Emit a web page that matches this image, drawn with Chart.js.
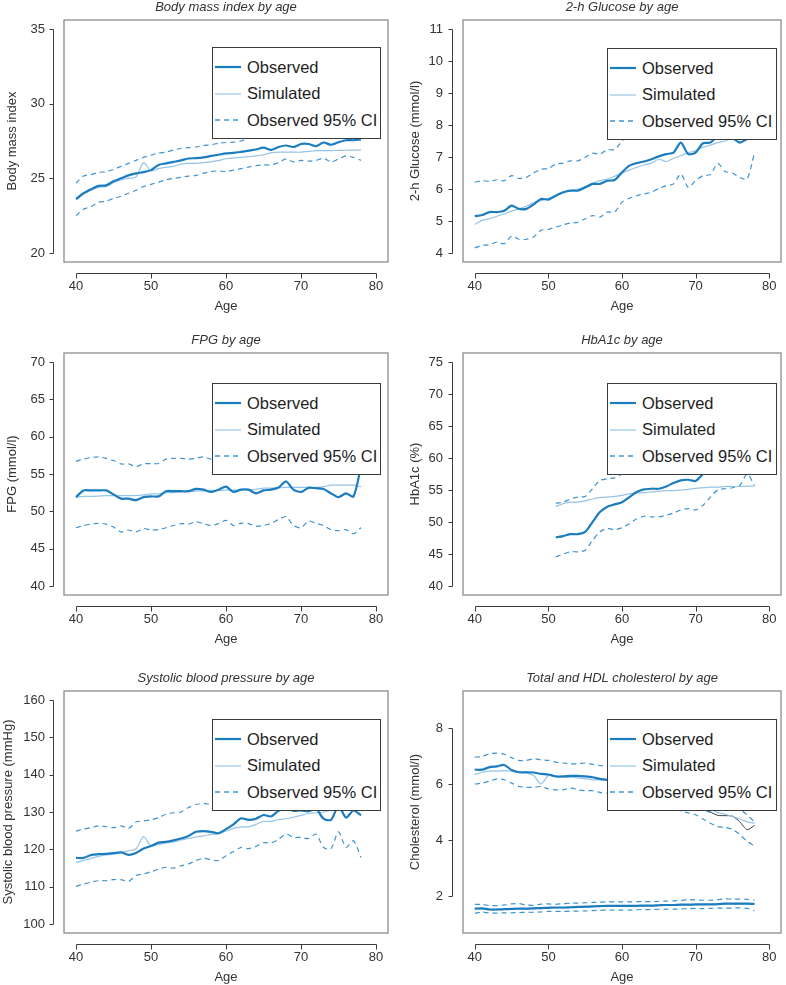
<!DOCTYPE html>
<html>
<head>
<meta charset="utf-8">
<script src="https://cdn.jsdelivr.net/npm/chart.js@4.4.1/dist/chart.umd.min.js"></script>
<style>
  html, body { margin: 0; padding: 0; background: #fff; overflow: hidden; }
  #page { position: relative; width: 786px; height: 985px; }
  .panel { position: absolute; width: 393px; height: 314px; }
  .panel canvas { position: absolute; left: 0; top: 0; }
  .legend { position: absolute; box-sizing: border-box; background: #fff; border: 1px solid #3a3a3a;
            font-family: "Liberation Sans", Arial, sans-serif; font-size: 16.5px; color: #1e1e1e; }
  .legend .row { position: absolute; left: 0; height: 20px; display: flex; align-items: center; white-space: nowrap; }
  .legend svg { margin-left: 2px; margin-right: 6px; }
</style>
</head>
<body>
<div id="page"></div>
<script>
// ages on the x axis
const ages = [40,41,42,43,44,45,46,47,48,49,50,51,52,53,54,55,56,57,58,59,60,61,62,63,64,65,66,67,68,69,70,71,72,73,74,75,76,77,78];
const agesHba = [51,52,53,54,55,56,57,58,59,60,61,62,63,64,65,66,67,68,69,70,71,72,73,74,75,76,77,78];
const xTicks = [40, 50, 60, 70, 80];

// Body mass index
const bmiObs = [23.6,24.0,24.27,24.5,24.53,24.8,25.0,25.2,25.33,25.42, 25.55,25.9,26.0,26.1,26.2,26.33,26.35,26.4,26.5,26.58, 26.67,26.7,26.77,26.85,26.93,27.05,26.9,27.1,27.2,27.1, 27.3,27.3,27.15,27.4,27.25,27.42,27.55,27.55,27.6];
const bmiSim = [23.7,23.95,24.2,24.4,24.45,24.7,24.9,25.0,25.1,26.05, 25.5,25.65,25.75,25.8,25.95,26.0,26.0,26.05,26.1,26.2, 26.31,26.37,26.4,26.45,26.5,26.58,26.71,26.75,26.75,26.75, 26.75,26.8,26.85,26.85,26.86,26.87,26.88,26.89,26.9];
const bmiHi  = [24.67,25.15,25.25,25.4,25.45,25.6,25.8,26.0,26.2,26.4, 26.55,26.7,26.75,26.9,27.0,27.05,27.1,27.2,27.25,27.35, 27.4,27.42,27.5,27.7,27.8,28.0,27.9,28.1,28.25,28.1, 28.35,28.35,28.2,28.45,28.3,28.5,28.65,28.7,28.8];
const bmiLo  = [22.49,22.93,23.1,23.4,23.47,23.65,23.8,24.0,24.2,24.45, 24.6,24.75,24.9,25.0,25.07,25.15,25.2,25.35,25.45,25.5, 25.45,25.55,25.65,25.75,25.85,25.9,25.9,26.05,26.3,26.1, 26.2,26.15,26.2,26.35,26.1,26.3,26.5,26.4,26.2];
const bmiTicks = [20, 25, 30, 35];

// 2-h glucose
const gluObs = [5.15,5.19,5.28,5.28,5.32,5.48,5.38,5.38,5.52,5.69, 5.67,5.79,5.9,5.95,5.95,6.05,6.16,6.16,6.26,6.28, 6.52,6.73,6.81,6.86,6.93,7.02,7.09,7.14,7.45,7.09, 7.14,7.43,7.45,7.66,7.71,7.6,7.45,7.56,7.65];
const gluSim = [4.89,5.02,5.07,5.15,5.22,5.31,5.38,5.46,5.57,5.64, 5.71,5.79,5.88,5.95,6.0,6.08,6.18,6.26,6.31,6.4, 6.5,6.59,6.68,6.75,6.81,6.93,6.86,6.96,7.04,7.14, 7.19,7.3,7.37,7.45,7.5,7.6,7.7,7.82,7.92];
const gluHi  = [6.21,6.26,6.24,6.29,6.26,6.42,6.33,6.36,6.5,6.62, 6.64,6.78,6.81,6.88,6.88,6.99,7.12,7.09,7.23,7.23, 7.5,7.7,7.8,7.85,7.95,8.0,8.1,8.15,8.45,8.15, 8.2,8.45,8.5,8.7,8.8,8.7,8.6,8.8,9.1];
const gluLo  = [4.16,4.24,4.26,4.34,4.29,4.53,4.43,4.43,4.5,4.71, 4.74,4.81,4.88,4.94,4.96,5.07,5.17,5.12,5.28,5.28, 5.59,5.71,5.79,5.85,5.9,6.02,6.1,6.16,6.47,6.05, 6.26,6.42,6.45,6.8,6.55,6.5,6.36,6.31,7.14];
const gluTicks = [4, 5, 6, 7, 8, 9, 10, 11];

// FPG
const fpgObs = [51.9,52.8,52.8,52.8,52.8,52.27,51.7,51.7,51.5,51.9, 52.0,52.0,52.7,52.7,52.7,52.7,53.0,52.9,52.6,52.9, 53.3,52.6,52.9,52.9,52.4,52.8,52.9,53.2,54.0,52.9, 52.6,53.15,53.1,53.0,52.4,51.9,52.4,52.0,56.0];
const fpgSim = [51.9,52.0,52.0,52.05,52.1,52.1,52.1,52.1,52.1,52.2, 52.35,52.35,52.5,52.5,52.6,52.65,52.7,52.75,52.8,52.8, 52.84,52.84,52.9,52.9,52.95,53.1,53.1,53.15,53.2,53.2, 53.2,53.2,53.2,53.3,53.5,53.5,53.5,53.5,53.3];
const fpgHi  = [56.7,57.0,57.2,57.3,57.1,56.8,56.35,56.35,56.0,56.35, 56.4,56.4,57.0,57.1,57.1,57.0,57.1,57.3,57.0,57.2, 57.4,57.2,57.3,57.4,57.2,57.5,57.6,57.9,58.6,57.6, 57.4,57.7,57.7,57.6,57.2,56.9,57.2,57.0,61.0];
const fpgLo  = [47.8,48.1,48.3,48.4,48.3,47.9,47.25,47.5,47.25,47.7, 47.5,47.55,47.8,48.1,48.35,48.3,48.6,48.35,48.1,48.35, 48.8,48.1,48.4,48.35,48.0,48.1,48.4,48.9,49.3,48.1, 47.8,48.7,48.4,48.1,47.55,47.4,47.55,47.0,47.8];
const fpgTicks = [40, 45, 50, 55, 60, 65, 70];

// HbA1c (ages 51-78)
const hbaObs = [47.6,47.8,48.1,48.1,48.45,50.0,51.55,52.4,52.75, 53.1,53.9,54.7,55.1,55.2,55.2,55.55,56.1,56.5,56.6, 56.4,57.5,58.8,59.3,59.6,60.0,60.3,60.7,61.0];
const hbaSim = [52.45,52.85,53.1,53.1,53.3,53.6,53.8,53.9,54.0, 54.15,54.4,54.5,54.6,54.7,54.8,54.9,54.9,55.0,55.1, 55.25,55.35,55.45,55.45,55.55,55.55,55.55,55.6,55.6];
const hbaHi  = [52.95,53.1,53.6,53.9,54.0,55.2,56.5,56.75,56.9, 57.5,57.9,58.5,59.0,59.2,59.3,59.6,60.2,60.5,60.6, 60.4,61.5,62.0,62.5,62.5,62.4,62.2,62.5,62.8];
const hbaLo  = [44.55,45.0,45.35,45.35,45.6,47.15,48.45,49.0,48.8, 49.1,49.75,50.5,50.9,50.8,50.8,51.05,51.4,51.9,52.1, 51.9,52.6,53.9,55.0,55.2,55.35,55.7,57.5,55.7];
const hbaTicks = [40, 45, 50, 55, 60, 65, 70, 75];

// Systolic blood pressure
const sbpObs = [117.7,117.7,118.5,118.7,118.8,119.0,119.2,118.5,119.0,120.2, 120.9,121.8,122.0,122.4,122.9,123.6,124.7,124.9,124.7,124.3, 125.4,126.7,128.3,127.9,128.2,129.2,128.8,130.3,130.9,130.3, 130.4,130.2,130.9,128.2,127.9,131.6,128.5,130.4,129.1];
const sbpSim = [116.5,117.0,117.6,118.1,118.5,118.7,119.2,119.6,120.1,123.4, 120.9,121.3,121.7,122.0,122.5,122.9,123.3,123.6,124.0,124.2, 124.9,125.6,126.0,126.0,126.7,127.5,127.5,128.0,128.2,128.6, 129.1,129.6,129.8,130.0,130.5,130.8,131.0,131.2,131.4];
const sbpHi  = [124.9,125.4,125.8,126.3,126.1,125.8,126.3,125.6,127.3,127.6, 127.9,128.5,129.4,129.8,130.0,131.2,132.0,132.3,132.0,132.2, 133.0,134.5,136.0,136.0,136.5,137.5,137.0,138.5,139.0,138.0, 138.0,138.0,139.0,137.0,136.0,139.0,136.0,139.0,140.0];
const sbpLo  = [110.1,110.7,111.2,111.6,111.6,111.9,111.9,111.4,113.0,113.4, 114.0,114.7,115.2,115.0,115.6,116.1,117.0,117.6,117.2,117.0, 118.3,119.4,120.5,120.2,120.8,121.8,121.7,122.7,124.1,123.2, 123.2,122.9,124.1,120.5,120.2,124.7,120.5,122.3,117.8];
const sbpTicks = [100, 110, 120, 130, 140, 150, 160];

// Total and HDL cholesterol
const tcObs  = [6.51,6.51,6.6,6.63,6.68,6.5,6.42,6.42,6.41,6.36, 6.34,6.27,6.27,6.29,6.29,6.27,6.24,6.18,6.15,6.1, 6.02,5.95,5.88,5.8,5.72,5.65,5.58,5.5,5.42,5.33, 5.22,5.12,5.0,null,null,null,null,null,null];
const tcDark = [null,null,null,null,null,null,null,null,null,null, null,null,null,null,null,null,null,null,null,null, null,null,null,null,null,null,null,null,null,null, null,null,5.0,4.88,4.87,4.85,4.65,4.37,4.52];
const tcSim  = [6.34,6.42,6.46,6.46,6.48,6.46,6.42,6.39,6.3,6.0, 6.3,6.27,6.24,6.24,6.22,6.18,6.15,6.15,6.12,6.08, 6.02,5.95,5.9,5.83,5.75,5.68,5.6,5.52,5.45,5.37, 5.28,5.2,5.1,4.98,4.92,4.85,4.75,4.65,4.6];
const tcHi   = [6.96,6.98,7.08,7.1,7.06,6.94,6.84,6.84,6.9,6.86, 6.84,6.78,6.75,6.72,6.72,6.75,6.7,6.66,6.62,6.58, 6.52,6.45,6.4,6.32,6.25,6.18,6.1,6.02,5.95,5.86, 5.78,5.7,5.6,5.5,5.42,5.3,5.1,4.9,4.65];
const tcLo   = [6.0,6.03,6.1,6.18,6.15,6.03,5.91,5.88,5.88,5.91, 5.82,5.79,5.79,5.86,5.79,5.76,5.76,5.7,5.67,5.6, 5.55,5.5,5.45,5.4,5.33,5.27,5.2,5.12,5.04,4.97, 4.9,4.75,4.6,4.48,4.45,4.38,4.2,3.95,3.78];
const hdlObs = [1.55,1.56,1.52,1.52,1.53,1.54,1.55,1.55,1.56,1.57, 1.58,1.59,1.59,1.60,1.61,1.62,1.63,1.64,1.65,1.65, 1.65,1.65,1.65,1.66,1.66,1.67,1.68,1.68,1.69,1.69, 1.70,1.70,1.70,1.71,1.73,1.73,1.73,1.73,1.72];
const hdlSim = [1.53,1.54,1.52,1.51,1.52,1.53,1.54,1.54,1.55,1.56, 1.57,1.58,1.58,1.59,1.60,1.61,1.62,1.63,1.64,1.64, 1.64,1.64,1.65,1.65,1.66,1.66,1.67,1.67,1.68,1.68, 1.69,1.69,1.70,1.71,1.72,1.72,1.72,1.72,1.72];
const hdlHi  = [1.70,1.70,1.66,1.66,1.68,1.72,1.73,1.68,1.67,1.71, 1.72,1.70,1.73,1.74,1.75,1.76,1.77,1.78,1.79,1.79, 1.79,1.79,1.80,1.80,1.80,1.81,1.82,1.83,1.84,1.87, 1.86,1.85,1.85,1.87,1.90,1.89,1.89,1.88,1.86];
const hdlLo  = [1.38,1.43,1.39,1.39,1.40,1.40,1.41,1.42,1.42,1.43, 1.45,1.45,1.45,1.46,1.46,1.47,1.48,1.49,1.50,1.50, 1.50,1.50,1.51,1.51,1.52,1.52,1.53,1.53,1.54,1.55, 1.56,1.55,1.56,1.57,1.57,1.57,1.58,1.56,1.48];
const cholTicks = [2, 4, 6, 8];

const C_OBS = '#1b7cc0', C_SIM = '#95c4e8', C_CI = '#3d93d0', C_DARK = '#3a3a3a';

Chart.defaults.font.family = '"Liberation Sans", Arial, sans-serif';
Chart.defaults.color = '#333';

function pts(xs, ys) { return xs.map((a, i) => ({x: a, y: ys[i]})); }
function obs(xs, ys, inLegend) { return {label: 'Observed', data: pts(xs, ys), borderColor: C_OBS, borderWidth: 2.2, inLegend: inLegend}; }
function sim(xs, ys, inLegend) { return {label: 'Simulated', data: pts(xs, ys), borderColor: C_SIM, borderWidth: 1.2, inLegend: inLegend}; }
function ci(xs, ys, inLegend) { return {label: 'Observed 95% CI', data: pts(xs, ys), borderColor: C_CI, borderWidth: 1.2, borderDash: [5, 4], inLegend: inLegend}; }

// R-style frame plus detached axis lines
const rAxes = {
  id: 'rAxes',
  afterDraw(chart) {
    const {ctx, chartArea: a, scales: {x, y}} = chart;
    ctx.save();
    ctx.strokeStyle = '#8c8c8c';
    ctx.lineWidth = 1.3;
    ctx.strokeRect(a.left, a.top, a.right - a.left, a.bottom - a.top);
    ctx.strokeStyle = '#3c3c3c';
    ctx.lineWidth = 1;
    ctx.beginPath();
    const xp = x.ticks.map(t => Math.round(x.getPixelForValue(t.value)) + 0.5);
    const yb = Math.round(a.bottom + 11) + 0.5;
    ctx.moveTo(xp[0], yb); ctx.lineTo(xp[xp.length - 1], yb);
    xp.forEach(p => { ctx.moveTo(p, yb); ctx.lineTo(p, yb + 5); });
    const yp = y.ticks.map(t => Math.round(y.getPixelForValue(t.value)) + 0.5);
    const xl = Math.round(a.left - 11) + 0.5;
    ctx.moveTo(xl, yp[0]); ctx.lineTo(xl, yp[yp.length - 1]);
    yp.forEach(p => { ctx.moveTo(xl, p); ctx.lineTo(xl - 4, p); });
    ctx.stroke();
    ctx.restore();
  }
};

// boxed legend drawn as html over the plot
const htmlLegend = {
  id: 'htmlLegend',
  afterRender(chart, args, opts) {
    if (chart.$legendDone) return;
    chart.$legendDone = true;
    const box = document.createElement('div');
    box.className = 'legend';
    box.style.left = opts.left + 'px';
    box.style.top = opts.top + 'px';
    box.style.width = opts.width + 'px';
    box.style.height = opts.height + 'px';
    const rowsY = [20, 46.5, 73];
    chart.data.datasets.filter(d => d.inLegend).forEach((d, i) => {
      const row = document.createElement('div');
      row.className = 'row';
      row.style.top = (rowsY[i] - 11) + 'px';
      const dash = d.borderDash ? ' stroke-dasharray="5,4"' : '';
      const w = d.borderDash ? 1.6 : d.borderWidth;
      row.innerHTML = '<svg width="26" height="6"><line x1="0" y1="3" x2="26" y2="3" stroke="' + d.borderColor +
        '" stroke-width="' + w + '"' + dash + '/></svg><span>' + d.label + '</span>';
      box.appendChild(row);
    });
    chart.canvas.parentNode.appendChild(box);
  }
};

const page = document.getElementById('page');

function drawPanel(p) {
  const wrap = document.createElement('div');
  wrap.className = 'panel';
  wrap.style.left = (p.col * 393) + 'px';
  wrap.style.top = p.top + 'px';
  const cv = document.createElement('canvas');
  cv.width = 393; cv.height = 314;
  wrap.appendChild(cv);
  page.appendChild(wrap);
  const pad = 0.04 * (p.ylim[1] - p.ylim[0]);
  new Chart(cv, {
    type: 'line',
    data: {datasets: p.datasets},
    plugins: [rAxes, htmlLegend],
    options: {
      responsive: false,
      animation: false,
      events: [],
      layout: {padding: {left: 0, right: 5, top: 0, bottom: 0}},
      elements: {point: {radius: 0}, line: {tension: 0.25, fill: false}},
      plugins: {
        legend: {display: false},
        tooltip: {enabled: false},
        title: {display: true, text: p.title, fullSize: false, color: '#333',
                font: {size: 13, style: 'italic', weight: 'normal'}, padding: {top: 0, bottom: 4.4}},
        htmlLegend: {left: p.col ? 214 : 212, top: p.legTop, width: p.col ? 170 : 169, height: 92}
      },
      scales: {
        x: {
          type: 'linear', min: 40 - 1.6, max: 80 + 1.6,
          afterBuildTicks: s => { s.ticks = xTicks.map(v => ({value: v})); },
          afterFit: s => { s.height = 52; s.paddingLeft = 0; s.paddingRight = 0; },
          grid: {display: false, drawTicks: false},
          border: {display: false},
          ticks: {padding: 17, font: {size: 13}, color: '#333'},
          title: {display: true, text: 'Age', font: {size: 13}, color: '#333', padding: {top: 0, bottom: 0}}
        },
        y: {
          type: 'linear', min: p.ylim[0] - pad, max: p.ylim[1] + pad,
          afterBuildTicks: s => { s.ticks = p.yticks.map(v => ({value: v})); },
          afterFit: s => { s.width = p.col ? 70 : 64; s.paddingTop = 0; s.paddingBottom = 0; },
          grid: {display: false, drawTicks: false},
          border: {display: false},
          ticks: {padding: p.col ? 20 : 19, font: {size: 13}, color: '#333'},
          title: {display: true, text: p.ytitle, font: {size: 13}, color: '#333', padding: {top: p.ytPad, bottom: 0}}
        }
      }
    }
  });
}

drawPanel({col: 0, top: 0, legTop: 47, title: 'Body mass index by age', ytitle: 'Body mass index', ytPad: 4.2,
  ylim: [20, 35], yticks: bmiTicks,
  datasets: [obs(ages, bmiObs, true), sim(ages, bmiSim, true), ci(ages, bmiHi, true), ci(ages, bmiLo, false)]});

drawPanel({col: 1, top: 0, legTop: 48, title: '2-h Glucose by age', ytitle: '2-h Glucose (mmol/l)', ytPad: 14.2,
  ylim: [4, 11], yticks: gluTicks,
  datasets: [obs(ages, gluObs, true), sim(ages, gluSim, true), ci(ages, gluHi, true), ci(ages, gluLo, false)]});

drawPanel({col: 0, top: 333, legTop: 50, title: 'FPG by age', ytitle: 'FPG (mmol/l)', ytPad: 4.2,
  ylim: [40, 70], yticks: fpgTicks,
  datasets: [obs(ages, fpgObs, true), sim(ages, fpgSim, true), ci(ages, fpgHi, true), ci(ages, fpgLo, false)]});

drawPanel({col: 1, top: 333, legTop: 50, title: 'HbA1c by age', ytitle: 'HbA1c (%)', ytPad: 14.2,
  ylim: [40, 75], yticks: hbaTicks,
  datasets: [obs(agesHba, hbaObs, true), sim(agesHba, hbaSim, true), ci(agesHba, hbaHi, true), ci(agesHba, hbaLo, false)]});

drawPanel({col: 0, top: 671, legTop: 48, title: 'Systolic blood pressure by age', ytitle: 'Systolic blood pressure (mmHg)', ytPad: 1,
  ylim: [100, 160], yticks: sbpTicks,
  datasets: [obs(ages, sbpObs, true), sim(ages, sbpSim, true), ci(ages, sbpHi, true), ci(ages, sbpLo, false)]});

drawPanel({col: 1, top: 671, legTop: 48, title: 'Total and HDL cholesterol by age', ytitle: 'Cholesterol (mmol/l)', ytPad: 14.2,
  ylim: [1, 9], yticks: cholTicks,
  datasets: [
    obs(ages, tcObs, true), sim(ages, tcSim, true), ci(ages, tcHi, true), ci(ages, tcLo, false),
    {label: 'Observed', data: pts(ages, tcDark), borderColor: C_DARK, borderWidth: 1, inLegend: false},
    obs(ages, hdlObs, false), sim(ages, hdlSim, false), ci(ages, hdlHi, false), ci(ages, hdlLo, false)
  ]});
</script>
</body>
</html>
